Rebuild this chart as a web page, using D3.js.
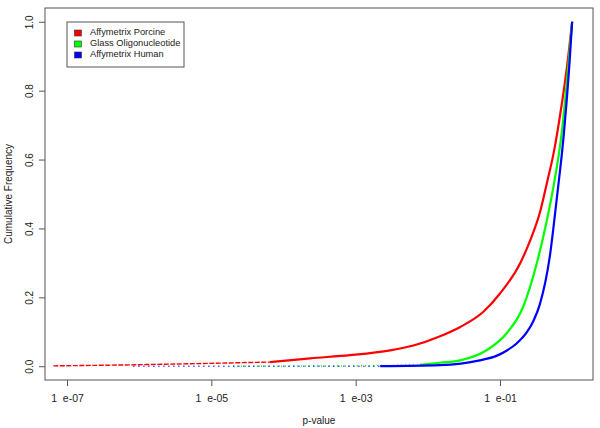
<!DOCTYPE html>
<html>
<head>
<meta charset="utf-8">
<script src="https://cdn.jsdelivr.net/npm/d3@7"></script>
<style>
  body { margin: 0; background: #fff; }
  svg { display: block; font-family: "Liberation Sans", Arial, sans-serif; }
</style>
</head>
<body>
<div id="chart"></div>
<script>
// tick values (log10 p) and frequency ticks
const pTicks = [-7, -5, -3, -1];
const freqTicks = [0, 0.2, 0.4, 0.6, 0.8, 1.0];
const seriesNames = ["Affymetrix Porcine", "Glass Oligonucleotide", "Affymetrix Human"];

// cumulative frequency curves (x = log10 p-value)
const porcineLogP = [-7.19, -6.12, -4.88, -4.19, -3.63, -3.08, -2.52, -2.20, -1.83, -1.55, -1.23, -1.00, -0.72, -0.58, -0.45, -0.34, -0.26, -0.17, -0.054, 0];
const porcineFreq = [0.001, 0.004, 0.009, 0.012, 0.023, 0.032, 0.046, 0.060, 0.087, 0.114, 0.158, 0.211, 0.299, 0.366, 0.444, 0.541, 0.615, 0.725, 0.899, 1.0];

const glassLogP = [-4.70, -3.08, -2.11, -1.83, -1.55, -1.18, -0.91, -0.68, -0.49, -0.35, -0.26, -0.145, -0.054, 0];
const glassFreq = [0.0, 0.001, 0.004, 0.010, 0.017, 0.047, 0.095, 0.172, 0.299, 0.424, 0.52, 0.677, 0.870, 1.0];

const humanLogP = [-6.08, -2.66, -1.83, -1.28, -1.05, -0.91, -0.77, -0.63, -0.54, -0.45, -0.31, -0.215, -0.114, -0.04, 0];
const humanFreq = [0.0, 0.0, 0.003, 0.017, 0.030, 0.045, 0.066, 0.098, 0.130, 0.178, 0.318, 0.483, 0.677, 0.870, 1.0];

const colors = ["#ff0000", "#00ff00", "#0000ff"];
// index up to which the points are sparse (drawn dotted)
const sparseUntil = [3, 2, 1];
const sparseDash = ["5,1.5", "1,3", "1,4"];

const series = [
  { name: seriesNames[0], x: porcineLogP, y: porcineFreq },
  { name: seriesNames[1], x: glassLogP, y: glassFreq },
  { name: seriesNames[2], x: humanLogP, y: humanFreq }
];

const width = 600, height = 428;
const plot = { left: 45, right: 593, top: 8, bottom: 380 };

const svg = d3.select("#chart").append("svg")
  .attr("width", width)
  .attr("height", height);

const x = d3.scaleLinear().domain([-7.305, 0.289]).range([plot.left, plot.right]);
const y = d3.scaleLinear().domain([-0.04, 1.04]).range([plot.bottom, plot.top]);

const line = d3.line()
  .x(d => x(d[0]))
  .y(d => y(d[1]))
  .curve(d3.curveMonotoneX);

series.forEach((s, i) => {
  const pts = s.x.map((v, j) => [v, s.y[j]]);
  svg.append("path")
    .attr("d", line(pts.slice(0, sparseUntil[i] + 1)))
    .attr("fill", "none")
    .attr("stroke", colors[i])
    .attr("stroke-width", 1.4)
    .attr("stroke-dasharray", sparseDash[i]);
  svg.append("path")
    .attr("d", line(pts.slice(sparseUntil[i])))
    .attr("fill", "none")
    .attr("stroke", colors[i])
    .attr("stroke-width", 2.2)
    .attr("stroke-linejoin", "round");
});

// box
svg.append("rect")
  .attr("x", plot.left).attr("y", plot.top)
  .attr("width", plot.right - plot.left)
  .attr("height", plot.bottom - plot.top)
  .attr("fill", "none")
  .attr("stroke", "#555")
  .attr("stroke-width", 1);

// x axis
const xAxis = svg.append("g")
  .attr("transform", `translate(0,${plot.bottom})`)
  .call(d3.axisBottom(x).tickValues(pTicks).tickSize(6).tickSizeOuter(0)
    .tickFormat(d => "1  e-0" + Math.abs(d)));
xAxis.select(".domain").remove();
xAxis.selectAll(".tick line").attr("stroke", "#555");
xAxis.selectAll(".tick text")
  .attr("y", 15)
  .attr("fill", "#222")
  .attr("font-size", 10.5)
  .style("white-space", "pre");

// y axis
const yAxis = svg.append("g")
  .attr("transform", `translate(${plot.left},0)`)
  .call(d3.axisLeft(y).tickValues(freqTicks).tickSize(6).tickSizeOuter(0)
    .tickFormat(d3.format(".1f")));
yAxis.select(".domain").remove();
yAxis.selectAll(".tick line").attr("stroke", "#555");
yAxis.selectAll(".tick text")
  .attr("x", 0).attr("dy", null)
  .attr("transform", "translate(-15,0) rotate(-90)")
  .attr("text-anchor", "middle")
  .attr("dominant-baseline", "middle")
  .attr("fill", "#222")
  .attr("font-size", 10);

// axis titles
svg.append("text")
  .attr("x", (plot.left + plot.right) / 2)
  .attr("y", 421)
  .attr("text-anchor", "middle")
  .attr("dominant-baseline", "middle")
  .attr("font-size", 10)
  .attr("fill", "#222")
  .text("p-value");

svg.append("text")
  .attr("transform", `translate(9,${(plot.top + plot.bottom) / 2}) rotate(-90)`)
  .attr("text-anchor", "middle")
  .attr("dominant-baseline", "middle")
  .attr("font-size", 10)
  .attr("fill", "#222")
  .text("Cumulative Frequency");

// legend
const legend = svg.append("g").attr("transform", "translate(67,22)");
legend.append("rect")
  .attr("width", 117).attr("height", 45)
  .attr("fill", "#fff")
  .attr("stroke", "#555");
seriesNames.forEach((name, i) => {
  const row = legend.append("g").attr("transform", `translate(0,${11 + i * 11})`);
  row.append("rect")
    .attr("x", 7.5).attr("y", -3)
    .attr("width", 7).attr("height", 6)
    .attr("fill", colors[i])
    .attr("stroke", "#333")
    .attr("stroke-width", 0.6);
  row.append("text")
    .attr("x", 23)
    .attr("dominant-baseline", "middle")
    .attr("font-size", 9.3)
    .attr("fill", "#222")
    .text(name);
});
</script>
</body>
</html>
